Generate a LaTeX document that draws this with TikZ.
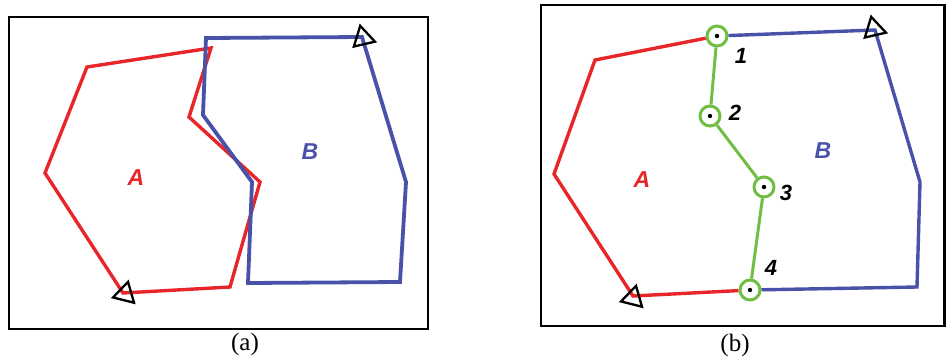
\documentclass[tikz,border=0pt]{standalone}
\usepackage{fontspec}
\setmainfont{Liberation Serif}
\newfontfamily\labfont{Liberation Sans}
\usetikzlibrary{shapes.geometric,positioning}
\definecolor{polyred}{RGB}{232,38,42}
\definecolor{polyblue}{RGB}{72,82,168}
\definecolor{cutgreen}{RGB}{112,190,68}
\begin{document}
\begin{tikzpicture}[x=1pt,y=-1pt,frame/.style={draw,line width=2.4pt},redline/.style={draw=polyred,line width=3.4pt},blueline/.style={draw=polyblue,line width=3.8pt},startmark/.style={draw,regular polygon,regular polygon sides=3,minimum size=25pt,inner sep=0pt,line width=2.3pt},vert/.style={circle,draw=cutgreen,line width=3pt,fill=white,minimum size=20pt,inner sep=0pt,path picture={\fill[black] (path picture bounding box.center) circle (2.2pt);}},tag/.style={font=\labfont\bfseries\itshape\fontsize{22}{22}\selectfont},poly/.style={font=\labfont\bfseries\itshape\fontsize{23}{23}\selectfont},subcap/.style={font=\fontsize{25}{25}\selectfont}]
\useasboundingbox (0,0) rectangle (946,360);
% panel (a): overlapping polygons
\draw[frame] (9,17) rectangle (428,329);
\coordinate (sa) at (123,293);\coordinate (sb) at (362,37);
\draw[redline] (sa) -- (230,287) -- (260,182) -- (189,117) -- (211,48) -- (87,67) -- (45,173) -- cycle;
\draw[blueline] (sb) -- (206,38) -- (203,115) -- (252,182) -- (248,283) -- (400,282) -- (406,182) -- cycle;
\node[startmark,rotate=-14] (ta) at (125,294) {};
\node[startmark,rotate=13] (tb) at (363,38) {};
\node[poly,text=polyred] (la) at (136,178) {A};
\node[poly,text=polyblue] (lb) at (310,152) {B};
\node[subcap] (capa) at (245,344) {(a)};
% panel (b): merged outline and cut line
\draw[frame] (541,5) rectangle (944.5,326);
\node[vert] (p1) at (717,36) {};
\node[vert] (p2) at (710,116) {};
\node[vert] (p3) at (764,187) {};
\node[vert] (p4) at (750,290) {};
\coordinate (sc) at (633,296);\coordinate (sd) at (875,30);
\draw[redline] (p1) -- (595,60) -- (554,174) -- (sc) -- (p4);
\draw[blueline,line width=3.4pt] (p1) -- (sd) -- (920,182) -- (917,287) -- (p4);
\draw[cutgreen,line width=3pt] (p1) -- (p2) -- (p3) -- (p4);
\node[startmark,rotate=-14] (tc) at (633,298) {};
\node[startmark,rotate=13] (td) at (874,29) {};
\node[tag] (n1) at (741,56) {1};
\node[tag] (n2) at (735,113) {2};
\node[tag] (n3) at (786,193) {3};
\node[tag] (n4) at (771,268) {4};
\node[poly,text=polyred] (lc) at (642,180) {A};
\node[poly,text=polyblue] (ld) at (823,151) {B};
\node[subcap] (capb) at (735,345) {(b)};
\end{tikzpicture}
\end{document}
